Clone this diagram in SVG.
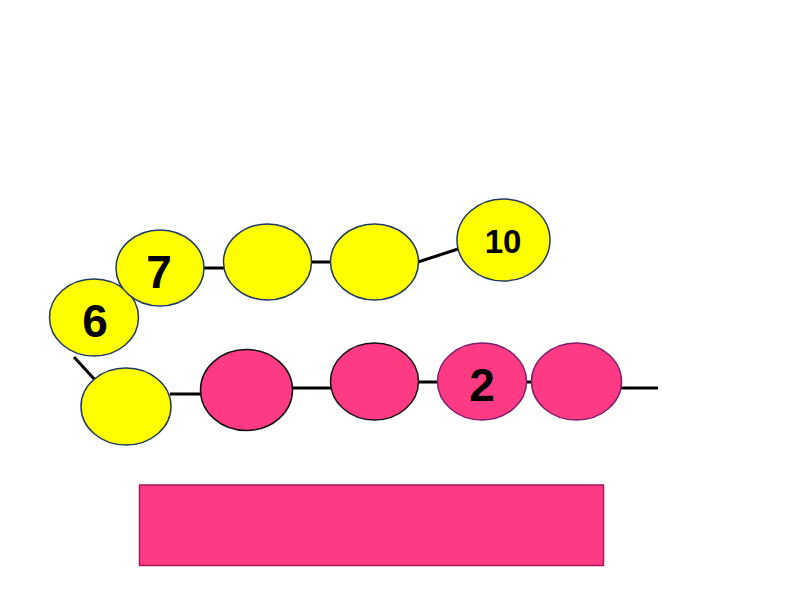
<svg xmlns="http://www.w3.org/2000/svg" width="800" height="600" viewBox="0 0 800 600">
<style>
.y{fill:#FFFF00;stroke:#1F3864;stroke-width:1.5}
.p{fill:#FF3A85;stroke:#111;stroke-width:1.5}
.q{fill:#FF3A85;stroke:#7A1E6E;stroke-width:1.5}
.c{stroke:#000;stroke-width:3;fill:none}
.t{font-family:"Liberation Sans",Arial,sans-serif;font-weight:bold;fill:#000;text-anchor:middle}
</style>
<rect width="800" height="600" fill="#fff"/>
<g id="connectors">
<line class="c" x1="74" y1="357" x2="96" y2="381"/>
<line class="c" x1="203" y1="268" x2="224" y2="268"/>
<line class="c" x1="311" y1="262" x2="331" y2="262"/>
<line class="c" x1="418" y1="262" x2="458" y2="249"/>
<line class="c" x1="170" y1="394" x2="201" y2="394"/>
<line class="c" x1="292" y1="388" x2="331" y2="388"/>
<line class="c" x1="418" y1="382" x2="438" y2="382"/>
<line class="c" x1="526" y1="382" x2="532" y2="382"/>
<line class="c" x1="621" y1="388" x2="658" y2="388"/>
</g>
<g id="n6"><ellipse class="y" cx="94" cy="317.5" rx="44.5" ry="38.5"/><text class="t" x="95" y="337" font-size="46">6</text></g>
<g id="n7"><ellipse class="y" cx="160" cy="268" rx="44" ry="38"/><text class="t" x="159" y="288" font-size="46">7</text></g>
<g id="n8"><ellipse class="y" cx="267.5" cy="262" rx="44" ry="38"/></g>
<g id="n9"><ellipse class="y" cx="374.5" cy="262" rx="44" ry="38"/></g>
<g id="n10"><ellipse class="y" cx="503.5" cy="240" rx="46.5" ry="41"/><text class="t" x="503" y="253" font-size="33">10</text></g>
<g id="n5"><ellipse class="y" cx="126" cy="406.5" rx="45" ry="38.5"/></g>
<g id="p1"><ellipse class="p" cx="246.5" cy="390" rx="46" ry="40.5"/></g>
<g id="p2"><ellipse class="p" cx="374.5" cy="381.5" rx="44" ry="38.5"/></g>
<g id="p3"><ellipse class="q" cx="482" cy="381.5" rx="44.5" ry="38.5"/><text class="t" x="482" y="401" font-size="46">2</text></g>
<g id="p4"><ellipse class="q" cx="576.5" cy="381.5" rx="45" ry="38.5"/></g>
<g id="bar"><rect x="139.5" y="485" width="464" height="80.5" fill="#FF3A85" stroke="#A8175A" stroke-width="1.5"/></g>
</svg>
